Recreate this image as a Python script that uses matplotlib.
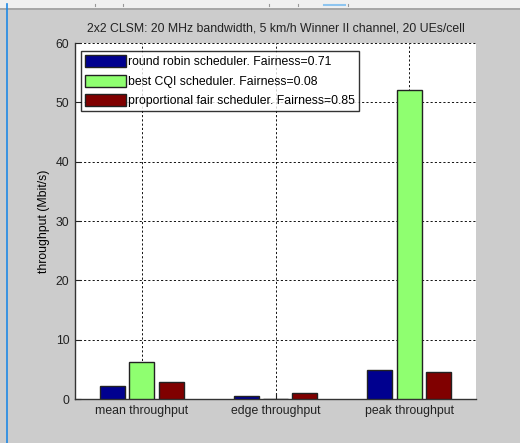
import matplotlib.pyplot as plt
import numpy as np
from matplotlib.patches import Rectangle
from matplotlib.lines import Line2D

plt.rcParams['font.family'] = ['Liberation Sans', 'DejaVu Sans']

categories = ['mean throughput', 'edge throughput', 'peak throughput']
series_names = ['round robin scheduler. Fairness=0.71',
                'best CQI scheduler. Fairness=0.08',
                'proportional fair scheduler. Fairness=0.85']
round_robin = [2.2, 0.45, 4.85]
best_cqi = [6.2, 0.0, 52.1]
prop_fair = [2.9, 0.95, 4.6]
colors = ['#00008f', '#8fff70', '#800000']

W, H = 520, 443
fs = 8.8
fig = plt.figure(figsize=(W / 100, H / 100), dpi=100, facecolor='#cccccc')

# window chrome: light strip on top, blue edge on the left
fig.patches.append(Rectangle((0, 1 - 8 / H), 1, 8 / H, transform=fig.transFigure,
                             facecolor='#f0f0f0', edgecolor='none', zorder=0))
fig.lines.append(Line2D([0, 1], [1 - 8.5 / H] * 2, transform=fig.transFigure,
                        color='#a0a0a0', lw=1.2))
fig.lines.append(Line2D([6.5 / W] * 2, [0, 1 - 4 / H], transform=fig.transFigure,
                        color='#1e88e5', lw=1.2))
fig.lines.append(Line2D([324 / W, 345 / W], [1 - 4.5 / H] * 2, transform=fig.transFigure,
                        color='#8ec5f0', lw=1.5))
for xm in [95, 123, 269, 298, 348]:
    fig.lines.append(Line2D([xm / W] * 2, [1 - 3.5 / H, 1 - 6 / H], transform=fig.transFigure,
                            color='#999999', lw=0.8))

ax = fig.add_axes([75 / W, 1 - 399 / H, (476 - 75) / W, (399 - 43) / H])
ax.set_facecolor('white')

x = np.arange(1, len(categories) + 1)
width = 0.187
offset = 0.22
for i, (vals, name) in enumerate(zip([round_robin, best_cqi, prop_fair], series_names)):
    ax.bar(x + (i - 1) * offset, vals, width, color=colors[i], edgecolor='#222222',
           linewidth=1.0, label=name, zorder=3)

ax.set_xlim(0.5, 3.5)
ax.set_ylim(0, 60)
ax.set_yticks(range(0, 61, 10))
ax.set_xticks(x)
ax.set_xticklabels(categories)
ax.grid(True, linestyle=(0, (2.2, 2.2)), color='#111111', linewidth=0.7, zorder=1)
ax.set_axisbelow(True)
for side in ['top', 'right']:
    ax.spines[side].set_visible(False)
for side in ['left', 'bottom']:
    ax.spines[side].set_color('#333333')
    ax.spines[side].set_linewidth(1.0)
ax.tick_params(direction='in', length=4, labelsize=fs, colors='#222222', pad=4)

ax.set_ylabel('throughput (Mbit/s)', fontsize=fs)
ax.yaxis.set_label_coords(-25 / 401, 0.5)
ax.set_title('2x2 CLSM: 20 MHz bandwidth, 5 km/h Winner II channel, 20 UEs/cell',
             fontsize=fs, pad=8, color='#222222')

leg = ax.legend(loc='upper left', bbox_to_anchor=(6 / 401, 1 - 8 / 356), fontsize=fs,
                frameon=True, fancybox=False, borderpad=0.35, labelspacing=0.5,
                handlelength=3.3, handleheight=1.15, handletextpad=0.2, borderaxespad=0)
leg.get_frame().set_edgecolor('black')
leg.get_frame().set_linewidth(1.0)
leg.set_zorder(5)

fig.savefig('out.png', dpi=100, facecolor=fig.get_facecolor())
